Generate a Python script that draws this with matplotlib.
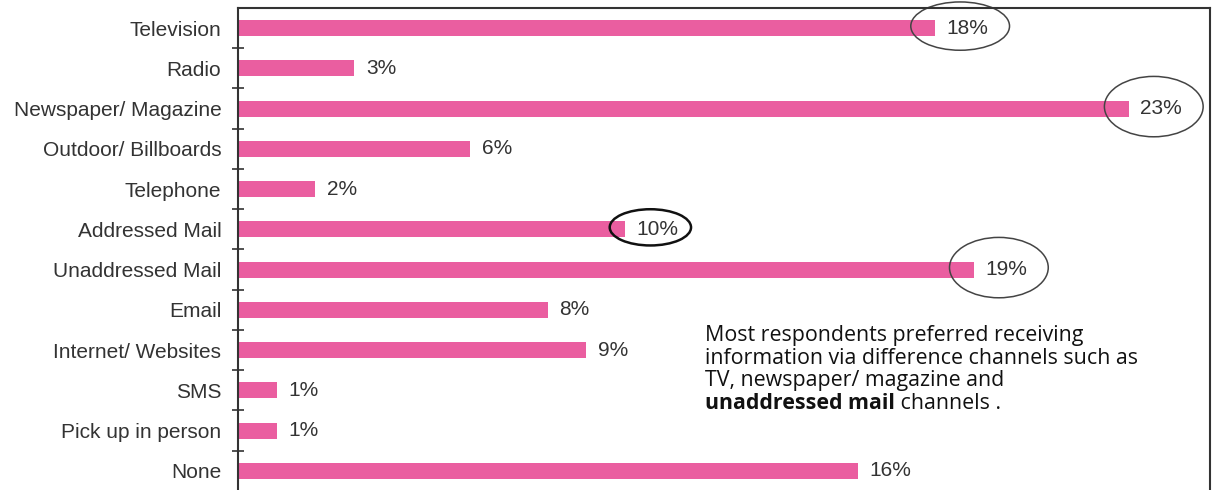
import numpy as np
import matplotlib
matplotlib.use('Agg')
import matplotlib.pyplot as plt
from matplotlib.patches import Ellipse

# dati
canali = ['Television', 'Radio', 'Newspaper/ Magazine', 'Outdoor/ Billboards', 'Telephone',
          'Addressed Mail', 'Unaddressed Mail', 'Email', 'Internet/ Websites', 'SMS',
          'Pick up in person', 'None']
percentuali = [18, 3, 23, 6, 2, 10, 19, 8, 9, 1, 1, 16]
etichette = ['18%', '3%', '23%', '6%', '2%', '10%', '19%', '8%', '9%', '1%', '1%', '16%']
cerchiati = ['Television', 'Newspaper/ Magazine', 'Addressed Mail', 'Unaddressed Mail']
righe_nota = ['Most respondents preferred receiving',
              'information via difference channels such as',
              'TV, newspaper/ magazine and']

plt.rcParams['font.family'] = ['Liberation Sans', 'DejaVu Sans']

fig = plt.figure(figsize=(12.16, 4.9), dpi=100)
ax = fig.add_axes([0.1957, -0.002, 0.7993, 0.9857])

y = np.arange(len(canali))
ax.barh(y, percentuali, height=0.4, color='#ea5ea0', edgecolor='none')
ax.set_xlim(0, 25.1)
ax.set_ylim(len(canali) - 0.5, -0.5)

for yi, v, lab in zip(y, percentuali, etichette):
    ax.text(v + 0.3, yi, lab, va='center', ha='left', fontsize=15, color='#333333')

# ellissi attorno ai valori principali
for nome in cerchiati:
    i = canali.index(nome)
    v = percentuali[i]
    spessore = 1.8 if nome == 'Addressed Mail' else 1.1
    colore = '#111111' if nome == 'Addressed Mail' else '#444444'
    larg = 2.1 if nome == 'Addressed Mail' else 2.55
    alt = 0.9 if nome == 'Addressed Mail' else (1.2 if nome == 'Television' else 1.5)
    e = Ellipse((v + 0.65, i - 0.05), larg, alt, fill=False, lw=spessore,
                edgecolor=colore, clip_on=False)
    ax.add_patch(e)

ax.set_yticks(y)
ax.set_yticklabels(canali, fontsize=15, color='#333333')
ax.set_yticks(np.arange(len(canali) - 1) + 0.5, minor=True)
ax.tick_params(axis='y', which='major', length=0, pad=12)
ax.tick_params(axis='y', which='minor', length=9, direction='inout', width=1.2, color='#333333')
ax.set_xticks([])

ax.spines['bottom'].set_visible(False)
for s in ['left', 'top', 'right']:
    ax.spines[s].set_linewidth(1.5)
    ax.spines[s].set_color('#333333')

# nota a destra
x_nota = 705 / 1216
for k, riga in enumerate(righe_nota):
    fig.text(x_nota, 1 - (341 + 22.5 * k) / 490, riga, fontsize=15.4, family='Open Sans',
             va='baseline', ha='left', color='#111111')
grassetto = fig.text(x_nota, 1 - (341 + 22.5 * 3) / 490, 'unaddressed mail', fontsize=15.4,
                     family='Open Sans', weight='bold', va='baseline', ha='left', color='#111111')
ax.annotate(' channels .', xy=(1, 0), xycoords=grassetto, va='bottom', ha='left',
            fontsize=15.4, family='Open Sans', color='#111111')

fig.savefig('out.png', dpi=100, facecolor='white')
